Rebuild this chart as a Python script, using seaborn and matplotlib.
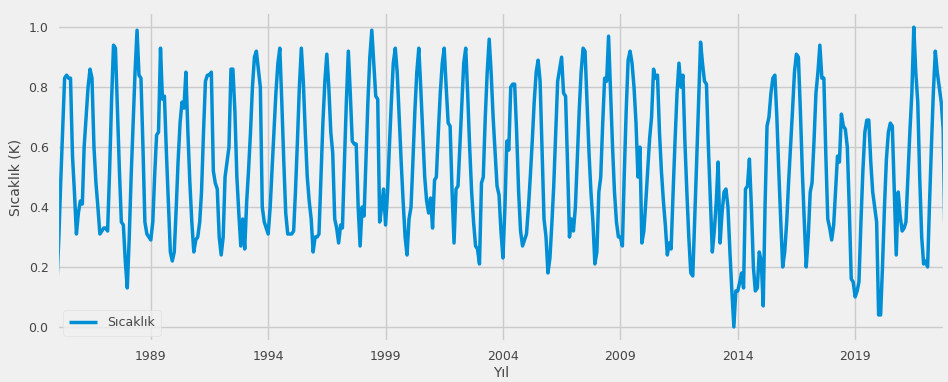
import numpy as np
import pandas as pd
import matplotlib
matplotlib.use('Agg')
import matplotlib.pyplot as plt
import seaborn as sns

# Monthly values (Jan..Dec)
y1985 = [0.14, 0.30, 0.48, 0.66, 0.83, 0.84, 0.83, 0.83, 0.57, 0.45, 0.31, 0.38]
y1986 = [0.42, 0.41, 0.60, 0.70, 0.80, 0.86, 0.83, 0.60, 0.48, 0.40, 0.31, 0.32]
y1987 = [0.33, 0.33, 0.32, 0.52, 0.75, 0.94, 0.93, 0.72, 0.52, 0.35, 0.34, 0.22]
y1988 = [0.13, 0.30, 0.50, 0.68, 0.85, 0.99, 0.84, 0.83, 0.60, 0.35, 0.31, 0.30]
y1989 = [0.29, 0.35, 0.50, 0.64, 0.65, 0.93, 0.76, 0.77, 0.58, 0.42, 0.25, 0.22]
y1990 = [0.25, 0.40, 0.55, 0.68, 0.75, 0.73, 0.85, 0.65, 0.48, 0.35, 0.25, 0.29]
y1991 = [0.30, 0.35, 0.45, 0.65, 0.82, 0.84, 0.84, 0.85, 0.52, 0.48, 0.46, 0.30]
y1992 = [0.24, 0.30, 0.50, 0.55, 0.60, 0.86, 0.86, 0.72, 0.50, 0.38, 0.27, 0.36]
y1993 = [0.26, 0.42, 0.52, 0.65, 0.80, 0.90, 0.92, 0.86, 0.80, 0.40, 0.35, 0.33]
y1994 = [0.31, 0.40, 0.52, 0.65, 0.78, 0.88, 0.93, 0.75, 0.55, 0.38, 0.31, 0.31]
y1995 = [0.31, 0.32, 0.45, 0.62, 0.80, 0.93, 0.82, 0.65, 0.50, 0.42, 0.36, 0.25]
y1996 = [0.30, 0.30, 0.31, 0.50, 0.68, 0.82, 0.91, 0.80, 0.65, 0.58, 0.36, 0.33]
y1997 = [0.28, 0.34, 0.33, 0.55, 0.75, 0.92, 0.78, 0.62, 0.61, 0.61, 0.40, 0.27]
y1998 = [0.40, 0.37, 0.55, 0.75, 0.90, 0.99, 0.88, 0.77, 0.76, 0.35, 0.40, 0.46]
y1999 = [0.34, 0.45, 0.60, 0.75, 0.88, 0.93, 0.85, 0.70, 0.55, 0.42, 0.30, 0.24]
y2000 = [0.36, 0.40, 0.55, 0.72, 0.85, 0.93, 0.80, 0.65, 0.50, 0.42, 0.38, 0.43]
y2001 = [0.33, 0.49, 0.50, 0.65, 0.78, 0.88, 0.93, 0.80, 0.68, 0.67, 0.45, 0.28]
y2002 = [0.46, 0.47, 0.60, 0.75, 0.88, 0.93, 0.78, 0.60, 0.45, 0.35, 0.27, 0.26]
y2003 = [0.21, 0.48, 0.50, 0.70, 0.85, 0.96, 0.85, 0.70, 0.58, 0.47, 0.44, 0.32]
y2004 = [0.23, 0.40, 0.62, 0.59, 0.80, 0.81, 0.81, 0.65, 0.45, 0.32, 0.27, 0.29]
y2005 = [0.31, 0.40, 0.50, 0.62, 0.75, 0.85, 0.89, 0.82, 0.58, 0.36, 0.30, 0.18]
y2006 = [0.23, 0.35, 0.47, 0.65, 0.82, 0.86, 0.90, 0.78, 0.77, 0.55, 0.30, 0.36]
y2007 = [0.32, 0.40, 0.55, 0.72, 0.85, 0.93, 0.92, 0.75, 0.58, 0.45, 0.35, 0.21]
y2008 = [0.25, 0.45, 0.50, 0.68, 0.83, 0.82, 0.97, 0.78, 0.60, 0.45, 0.35, 0.30]
y2009 = [0.30, 0.27, 0.50, 0.72, 0.89, 0.92, 0.88, 0.80, 0.68, 0.50, 0.60, 0.28]
y2010 = [0.32, 0.42, 0.52, 0.63, 0.70, 0.86, 0.83, 0.84, 0.65, 0.52, 0.42, 0.34]
y2011 = [0.24, 0.28, 0.26, 0.45, 0.62, 0.78, 0.88, 0.80, 0.84, 0.62, 0.45, 0.30]
y2012 = [0.18, 0.17, 0.35, 0.55, 0.75, 0.95, 0.88, 0.82, 0.81, 0.60, 0.42, 0.25]
y2013 = [0.32, 0.42, 0.55, 0.28, 0.38, 0.45, 0.46, 0.40, 0.25, 0.12, 0.00, 0.12]
y2014 = [0.12, 0.15, 0.18, 0.13, 0.46, 0.47, 0.56, 0.40, 0.20, 0.12, 0.13, 0.25]
y2015 = [0.22, 0.07, 0.40, 0.67, 0.70, 0.78, 0.83, 0.84, 0.70, 0.52, 0.35, 0.20]
y2016 = [0.25, 0.35, 0.48, 0.60, 0.72, 0.85, 0.91, 0.90, 0.72, 0.52, 0.35, 0.20]
y2017 = [0.30, 0.45, 0.48, 0.62, 0.78, 0.85, 0.94, 0.83, 0.83, 0.58, 0.36, 0.33]
y2018 = [0.29, 0.34, 0.45, 0.57, 0.55, 0.71, 0.67, 0.66, 0.60, 0.40, 0.16, 0.15]
y2019 = [0.10, 0.12, 0.15, 0.35, 0.52, 0.65, 0.69, 0.69, 0.55, 0.45, 0.40, 0.35]
y2020 = [0.04, 0.04, 0.20, 0.40, 0.56, 0.65, 0.68, 0.67, 0.45, 0.24, 0.45, 0.37]
y2021 = [0.32, 0.33, 0.35, 0.50, 0.65, 0.78, 1.00, 0.85, 0.75, 0.50, 0.30, 0.21]
y2022 = [0.22, 0.20, 0.40, 0.60, 0.78, 0.92, 0.85, 0.80, 0.75, 0.66, 0.25]

tick_years = [1989, 1994, 1999, 2004, 2009, 2014, 2019]

values = (y1985 + y1986 + y1987 + y1988 + y1989 + y1990 + y1991 + y1992
          + y1993 + y1994 + y1995 + y1996 + y1997 + y1998 + y1999 + y2000
          + y2001 + y2002 + y2003 + y2004 + y2005 + y2006 + y2007 + y2008
          + y2009 + y2010 + y2011 + y2012 + y2013 + y2014 + y2015 + y2016
          + y2017 + y2018 + y2019 + y2020 + y2021 + y2022)
dates = pd.date_range('1985-01-01', periods=len(values), freq='MS')
df = pd.DataFrame({'Tarih': dates, 'Sıcaklık': values})

plt.style.use('fivethirtyeight')

fig, ax = plt.subplots(figsize=(9.48, 3.82), dpi=100)
fig.subplots_adjust(left=0.060, right=0.997, top=0.968, bottom=0.105)

sns.lineplot(data=df, x='Tarih', y='Sıcaklık', ax=ax, color='#008fd5',
             linewidth=2.5, label='Sıcaklık')

ax.set_xlim(dates[0], dates[-1])
ax.set_ylim(-0.05, 1.05)
ax.set_xticks(pd.to_datetime([f'{y}-01-01' for y in tick_years]))
ax.set_xticklabels([str(y) for y in tick_years])
ax.set_yticks([0.0, 0.2, 0.4, 0.6, 0.8, 1.0])
ax.tick_params(axis='both', labelsize=9, colors='#444444', length=0, pad=6)

ax.set_xlabel('Yıl', fontsize=10, color='#444444', labelpad=2)
ax.set_ylabel('Sıcaklık (K)', fontsize=10, color='#444444', labelpad=4)

leg = ax.legend(loc='lower left', fontsize=9, handlelength=2.2,
                frameon=True, borderpad=0.5)
leg.get_frame().set_facecolor('#f0f0f0')
leg.get_frame().set_edgecolor('#dddddd')
for t in leg.get_texts():
    t.set_color('#444444')

fig.savefig('out.png', dpi=100, facecolor=fig.get_facecolor())
